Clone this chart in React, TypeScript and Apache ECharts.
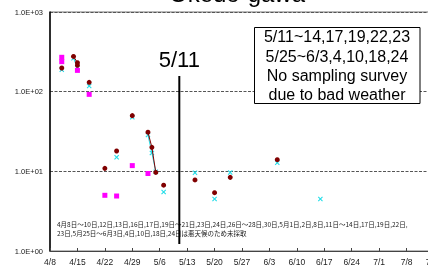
import React, { useEffect, useRef } from 'react';
import * as echarts from 'echarts';

const titleText = 'Okedo-gawa';
const eventDate = '5/11';
const noteLines = ['5/11~14,17,19,22,23', '5/25~6/3,4,10,18,24', 'No sampling survey', 'due to bad weather'];
const jpLines = [
  '4月8日～10日,12日,13日,16日,17日,19日～21日,23日,24日,26日～28日,30日,5月1日,2日,8日,11日～14日,17日,19日,22日,',
  '23日,5月25日～6月3日,4日,10日,18日,24日は悪天候のため未採取',
];

const xTickLabels = ['4/8', '4/15', '4/22', '4/29', '5/6', '5/13', '5/20', '5/27', '6/3', '6/10', '6/17', '6/24', '7/1', '7/8', '7/15'];
const yTickValues = [1, 10, 100, 1000];

const maroonDates = ['4/11', '4/14', '4/15', '4/15', '4/18', '4/22', '4/25', '4/29', '5/3', '5/4', '5/5', '5/7', '5/15', '5/20', '5/24', '6/5'];
const maroonValues = [198, 277, 231, 214, 131, 10.9, 18, 50, 31, 20, 9.7, 6.7, 7.8, 5.4, 8.4, 14];

const cyanDates = ['4/11', '4/14', '4/15', '4/18', '4/25', '4/29', '5/3', '5/4', '5/5', '5/7', '5/15', '5/20', '5/24', '6/5', '6/16'];
const cyanValues = [188, 262, 200, 118, 15, 47.6, 28.5, 17, 9.9, 5.5, 9.6, 4.5, 9.7, 12.8, 4.5];

const magentaDates = ['4/11', '4/11', '4/15', '4/18', '4/22', '4/25', '4/29', '5/3'];
const magentaValues = [270, 238, 185, 92.5, 5.0, 4.9, 11.8, 9.4];

const monthStart: Record<number, number> = { 4: 0, 5: 30, 6: 61, 7: 91 };
function dayIndex(md: string): number {
  const [m, d] = md.split('/').map(Number);
  return monthStart[m] + d - 8;
}
const xMin = dayIndex(xTickLabels[0]);
const xMax = dayIndex(xTickLabels[xTickLabels.length - 1]);

function buildData(dates: string[], values: number[]) {
  const pts = dates.map((d, i) => [dayIndex(d), values[i]] as [number, number]);
  const out: any[] = [];
  for (let i = 0; i < pts.length; i++) {
    if (i > 0 && pts[i][0] - pts[i - 1][0] > 1) out.push([(pts[i][0] + pts[i - 1][0]) / 2, '-']);
    out.push(pts[i]);
  }
  return out;
}

const xSymbol = 'path://M0 1.5L1.5 0L5 3.5L8.5 0L10 1.5L6.5 5L10 8.5L8.5 10L5 6.5L1.5 10L0 8.5L3.5 5Z';

export default function App() {
  const ref = useRef<HTMLDivElement>(null);
  useEffect(() => {
    if (!ref.current) return;
    const chart = echarts.init(ref.current, undefined, { renderer: 'svg' });
    const labelMap: Record<number, string> = {};
    xTickLabels.forEach((l) => (labelMap[dayIndex(l)] = l));
    chart.setOption({
      animation: false,
      grid: {
        left: 50,
        top: 12,
        height: 239,
        width: 384,
        show: true,
        borderColor: '#777',
        borderWidth: 1,
        containLabel: false,
        outerBoundsMode: 'none',
      },
      xAxis: {
        type: 'value',
        min: xMin,
        max: xMax,
        interval: 7,
        axisLine: { lineStyle: { color: '#444', width: 1 } },
        axisTick: { inside: true, length: 3, lineStyle: { color: '#444' } },
        axisLabel: {
          formatter: (v: number) => labelMap[v] ?? '',
          fontSize: 8.5,
          color: '#222',
          margin: 6,
          fontFamily: 'Liberation Sans',
          showMaxLabel: true,
          hideOverlap: false,
        },
        splitLine: { show: false },
      },
      yAxis: {
        type: 'log',
        logBase: 10,
        min: yTickValues[0],
        max: yTickValues[yTickValues.length - 1],
        axisLine: { show: true, lineStyle: { color: '#000', width: 1.5 } },
        axisTick: { show: false },
        axisLabel: {
          formatter: (v: number) => '1.0E+' + String(Math.round(Math.log10(v))).padStart(2, '0'),
          fontSize: 7.5,
          color: '#222',
          margin: 7,
          fontFamily: 'Liberation Sans',
        },
        splitLine: { show: true, lineStyle: { color: '#555', width: 1, type: [3, 1.5] } },
      },
      series: [
        {
          type: 'line',
          data: buildData(cyanDates, cyanValues),
          symbol: xSymbol,
          symbolSize: 5,
          showAllSymbol: true,
          itemStyle: { color: '#22dde8' },
          lineStyle: { color: '#22dde8', width: 1 },
          connectNulls: false,
          z: 2,
        },
        {
          type: 'line',
          data: buildData(magentaDates, magentaValues),
          symbol: 'rect',
          symbolSize: 5,
          showAllSymbol: true,
          itemStyle: { color: '#ff00ff' },
          lineStyle: { color: '#ff00ff', width: 1 },
          connectNulls: false,
          z: 3,
        },
        {
          type: 'line',
          data: buildData(maroonDates, maroonValues),
          symbol: 'circle',
          symbolSize: 5,
          showAllSymbol: true,
          itemStyle: { color: '#800000' },
          lineStyle: { color: '#800000', width: 1 },
          connectNulls: false,
          z: 4,
        },
      ],
    });
    const ex = chart.convertToPixel({ gridIndex: 0 }, [dayIndex(eventDate), 10])[0];
    chart.setOption({
      graphic: [
        {
          type: 'text',
          x: 237,
          y: -6.5,
          style: { text: titleText, fontSize: 24, fontFamily: 'Liberation Sans', fill: '#000', align: 'center', verticalAlign: 'middle' },
        },
        {
          type: 'text',
          x: ex,
          y: 59.4,
          style: { text: eventDate, fontSize: 22, fontFamily: 'Liberation Sans', fill: '#000', align: 'center', verticalAlign: 'middle' },
        },
        {
          type: 'text',
          x: 57,
          y: 228.5,
          style: {
            text: jpLines.join('\n'),
            fontSize: 6.5,
            lineHeight: 9,
            fontFamily: 'Noto Sans CJK JP',
            fill: '#222',
            align: 'left',
            verticalAlign: 'middle',
          },
        },
        {
          type: 'line',
          shape: { x1: ex, y1: 76, x2: ex, y2: 244 },
          style: { stroke: '#000', lineWidth: 2 },
          z: 10,
        },
        {
          type: 'rect',
          shape: { x: 254.5, y: 27.5, width: 165.5, height: 76 },
          style: { fill: '#fff', stroke: '#000', lineWidth: 1 },
          z: 10,
        },
        {
          type: 'text',
          x: 337,
          y: 65.9,
          style: {
            text: noteLines.join('\n'),
            fontSize: 16,
            lineHeight: 19.4,
            fontFamily: 'Liberation Sans',
            fill: '#000',
            align: 'center',
            verticalAlign: 'middle',
          },
          z: 11,
        },
      ],
    });
    return () => chart.dispose();
  }, []);
  return <div ref={ref} style={{ position: 'fixed', left: 0, top: 0, width: 428, height: 267 }} />;
}
